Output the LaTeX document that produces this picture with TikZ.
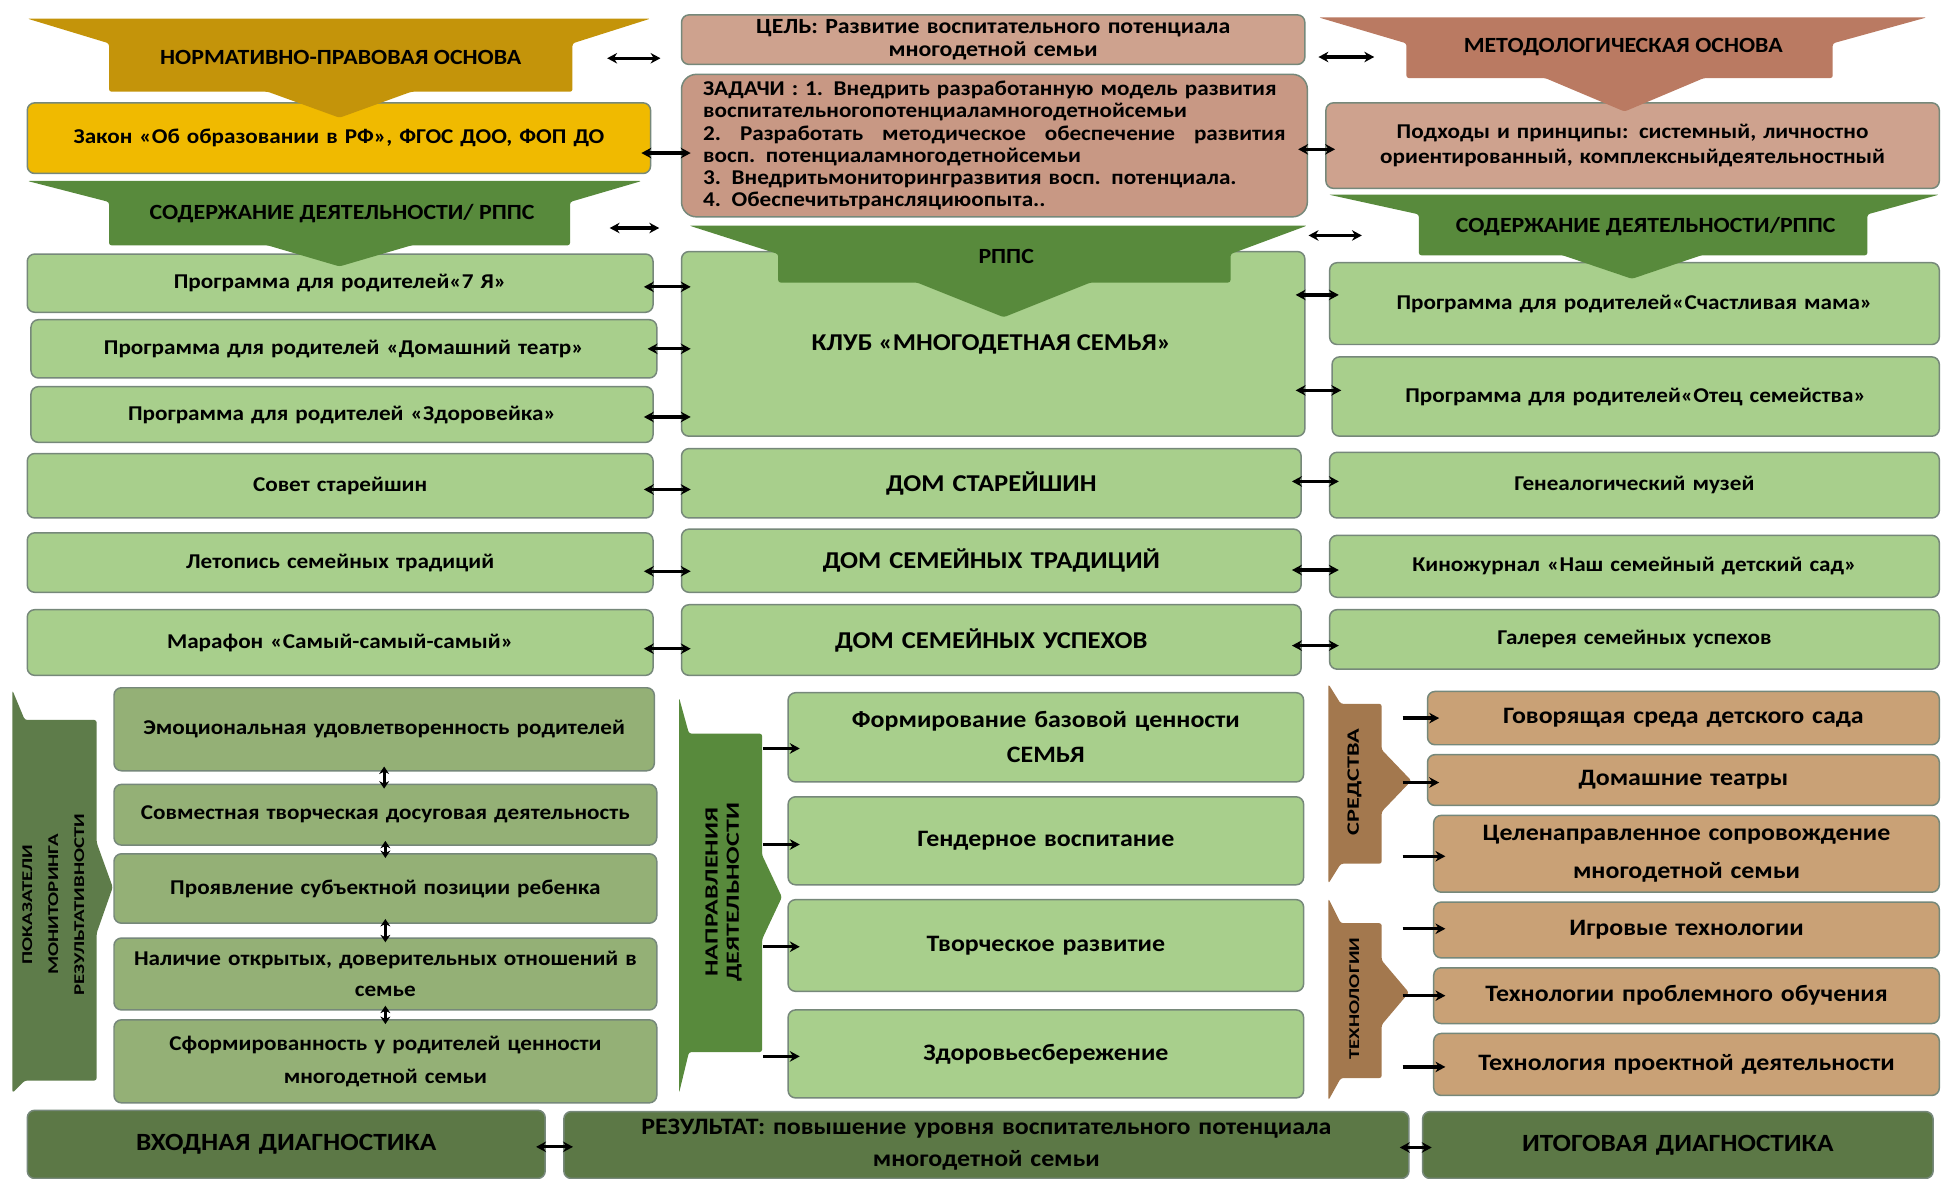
\documentclass[tikz,border=0pt]{standalone}
\usepackage{fontspec}
\setmainfont{Carlito}[FakeStretch=1.1]
\newfontfamily\widefont{Carlito}[FakeStretch=1.4]
\usetikzlibrary{arrows.meta}
\definecolor{goldc}{RGB}{196,148,10}
\definecolor{yelc}{RGB}{240,186,0}
\definecolor{rosec}{RGB}{206,162,142}
\definecolor{rosek}{RGB}{200,152,132}
\definecolor{metc}{RGB}{186,122,98}
\definecolor{chg}{RGB}{88,138,60}
\definecolor{lgc}{RGB}{168,207,140}
\definecolor{sagec}{RGB}{148,176,118}
\definecolor{pokc}{RGB}{94,124,74}
\definecolor{brc}{RGB}{163,120,78}
\definecolor{tanc}{RGB}{201,161,118}
\definecolor{dkg}{RGB}{92,120,70}
\definecolor{bordc}{RGB}{118,136,122}
\newcommand\FtBox{\bfseries\fontsize{17}{20}\selectfont}
\newcommand\FtCap{\bfseries\fontsize{17.5}{20}\selectfont}
\newcommand\FtDom{\bfseries\fontsize{19.5}{23}\selectfont}
\newcommand\FtZad{\bfseries\fontsize{17}{18}\selectfont}
\newcommand\FtBot{\bfseries\fontsize{20}{23}\selectfont}
\newcommand\FtMid{\bfseries\fontsize{19}{28}\selectfont}
\newcommand\mybox[7]{%
 \pgfmathsetmacro\mbW{(#4)-(#3)}\pgfmathsetmacro\mbH{(#6)-(#5)}%
 \pgfmathsetmacro\mbX{((#3)+(#4))/2}\pgfmathsetmacro\mbY{((#5)+(#6))/2}%
 \pgfmathsetmacro\mbT{(#4)-(#3)-4}%
 \node[#1, minimum width=\mbW pt, minimum height=\mbH pt, text width=\mbT pt] (#2) at (\mbX,\mbY) {#7};}
\begin{document}
\begin{tikzpicture}[x=1pt,y=-1pt,
  bx/.style={rounded corners=6pt, draw=bordc, line width=1.2pt, inner sep=0pt, align=center, font=\FtBox},
  lgb/.style={bx, fill=lgc},
  sgb/.style={bx, fill=sagec},
  tnb/.style={bx, fill=tanc, font=\FtMid},
  rsb/.style={bx, fill=rosec},
  dkb/.style={bx, fill=dkg, font=\FtBot},
  domb/.style={lgb, font=\FtDom},
  dirb/.style={lgb, font=\FtMid},
  chtxt/.style={font=\FtCap, inner sep=0pt},
  vtxt/.style={rotate=90, align=center, inner sep=0pt},
  dar/.style={{Stealth[length=8pt,width=8.5pt]}-{Stealth[length=8pt,width=8.5pt]}, line width=2.6pt, shorten <=-8pt, shorten >=-8pt},
  fdar/.style={{Stealth[length=8pt,width=8.5pt]}-{Stealth[length=8pt,width=8.5pt]}, line width=2.6pt},
  sar/.style={-{Stealth[length=8pt,width=8.5pt]}, line width=2.6pt, shorten >=-10pt},
  vdar/.style={{Stealth[length=6pt,width=8pt]}-{Stealth[length=6pt,width=8pt]}, line width=2.4pt, shorten <=-4pt, shorten >=-4pt},
  chev/.style={rounded corners=2pt}
]
\fill[white] (0,0) rectangle (1568,951);
\useasboundingbox (0,0) rectangle (1568,951);

% ---------- top boxes ----------
\mybox{bx, fill=yelc}{zakon}{22}{525}{83}{140}{Закон «Об образовании в РФ», ФГОС ДОО, ФОП ДО}
\mybox{rsb, font=\bfseries\fontsize{17.5}{18}\selectfont}{goal}{550}{1053}{12}{52}{ЦЕЛЬ: Развитие воспитательного потенциала\\многодетной семьи}
\node[bx, fill=rosek, rounded corners=12pt, font=\FtZad, align=left, minimum width=505pt, minimum height=115pt, text width=470pt] (tasks) at (802.5,117.5) {ЗАДАЧИ : 1. Внедрить разработанную модель развития\\воспитательногопотенциаламногодетнойсемьи\\\leavevmode\hbox to \linewidth{2.\hfill Разработать\hfill методическое\hfill обеспечение\hfill развития}\\восп. потенциаламногодетнойсемьи\\3. Внедритьмониторингразвития восп. потенциала.\\4. Обеспечитьтрансляциюопыта..};
\mybox{rsb}{appr}{1070}{1565}{83}{152}{Подходы и принципы: системный, личностно\\ориентированный, комплексныйдеятельностный}

% ---------- middle rows ----------
\mybox{lgb}{p7}{22}{527}{205}{252}{Программа для родителей«7 Я»}
\mybox{lgb}{pdt}{25}{530}{258}{305}{Программа для родителей «Домашний театр»}
\mybox{lgb}{pzd}{25}{527}{312}{357}{Программа для родителей «Здоровейка»}
\mybox{lgb}{sov}{22}{527}{366}{418}{Совет старейшин}
\mybox{lgb}{let}{22}{527}{430}{478}{Летопись семейных традиций}
\mybox{lgb}{mar}{22}{527}{492}{545}{Марафон «Самый-самый-самый»}

\mybox{lgb}{club}{550}{1053}{203}{352}{}
\node[font=\FtDom, inner sep=0pt] (clubt) at (800,278) {КЛУБ «МНОГОДЕТНАЯ СЕМЬЯ»};
\mybox{domb}{dst}{550}{1050}{362}{418}{ДОМ СТАРЕЙШИН}
\mybox{domb}{dtr}{550}{1050}{427}{478}{ДОМ СЕМЕЙНЫХ ТРАДИЦИЙ}
\mybox{domb}{dus}{550}{1050}{488}{545}{ДОМ СЕМЕЙНЫХ УСПЕХОВ}

\mybox{lgb}{mama}{1073}{1565}{212}{278}{Программа для родителей«Счастливая мама»}
\mybox{lgb}{otec}{1075}{1565}{288}{352}{Программа для родителей«Отец семейства»}
\mybox{lgb}{gen}{1073}{1565}{365}{418}{Генеалогический музей}
\mybox{lgb}{kino}{1073}{1565}{432}{482}{Киножурнал «Наш семейный детский сад»}
\mybox{lgb}{gal}{1073}{1565}{492}{540}{Галерея семейных успехов}

% ---------- bottom left ----------
\mybox{sgb}{m1}{92}{528}{555}{622}{Эмоциональная удовлетворенность родителей}
\mybox{sgb}{m2}{92}{530}{633}{682}{Совместная творческая досуговая деятельность}
\mybox{sgb}{m3}{92}{530}{689}{745}{Проявление субъектной позиции ребенка}
\mybox{sgb, font=\bfseries\fontsize{17}{25}\selectfont}{m4}{92}{530}{757}{815}{Наличие открытых, доверительных отношений в\\семье}
\mybox{sgb, font=\bfseries\fontsize{17}{27}\selectfont}{m5}{92}{530}{823}{890}{Сформированность у родителей ценности\\многодетной семьи}

% ---------- bottom centre ----------
\mybox{dirb}{n1}{636}{1052}{559}{631}{Формирование базовой ценности\\СЕМЬЯ}
\mybox{dirb}{n2}{636}{1052}{643}{714}{Гендерное воспитание}
\mybox{dirb}{n3}{636}{1052}{726}{800}{Творческое развитие}
\mybox{dirb}{n4}{636}{1052}{815}{886}{Здоровьесбережение}

% ---------- bottom right ----------
\mybox{tnb}{s1}{1152}{1565}{558}{601}{Говорящая среда детского сада}
\mybox{tnb}{s2}{1152}{1565}{609}{650}{Домашние театры}
\mybox{tnb, font=\bfseries\fontsize{19}{30}\selectfont}{s3}{1157}{1565}{658}{720}{Целенаправленное сопровождение\\многодетной семьи}
\mybox{tnb}{t1}{1157}{1565}{728}{773}{Игровые технологии}
\mybox{tnb}{t2}{1157}{1565}{781}{826}{Технологии проблемного обучения}
\mybox{tnb}{t3}{1157}{1565}{834}{884}{Технология проектной деятельности}

% ---------- bottom row ----------
\mybox{dkb}{vhod}{22}{440}{896}{951}{ВХОДНАЯ ДИАГНОСТИКА}
\mybox{dkb, font=\bfseries\fontsize{19}{26}\selectfont}{res}{455}{1137}{897}{951}{РЕЗУЛЬТАТ: повышение уровня воспитательного потенциала\\многодетной семьи}
\mybox{dkb}{itog}{1148}{1560}{897}{951}{ИТОГОВАЯ ДИАГНОСТИКА}

% ---------- chevrons ----------
\fill[goldc, chev] (22,15) -- (525,15) -- (462,35) -- (462,74) -- (332,74) -- (274,95) -- (216,74) -- (88,74) -- (88,35) -- cycle;
\node[chtxt] (npo) at (275,46) {НОРМАТИВНО-ПРАВОВАЯ ОСНОВА};
\fill[chg, chev] (22,146) -- (518,146) -- (460,163) -- (460,198) -- (332,198) -- (274,215) -- (216,198) -- (88,198) -- (88,163) -- cycle;
\node[chtxt] (sodl) at (276,172) {СОДЕРЖАНИЕ ДЕЯТЕЛЬНОСТИ/ РППС};
\fill[chg, chev] (556,182) -- (1055,182) -- (993,205) -- (993,228) -- (880,228) -- (810,256) -- (740,228) -- (628,228) -- (628,205) -- cycle;
\node[chtxt] (rpps) at (812,207) {РППС};
\fill[metc, chev] (1064,14) -- (1555,14) -- (1479,35) -- (1479,63) -- (1375,63) -- (1311,90) -- (1247,63) -- (1135,63) -- (1135,35) -- cycle;
\node[chtxt] (met) at (1310,38) {МЕТОДОЛОГИЧЕСКАЯ ОСНОВА};
\fill[chg, chev] (1072,157) -- (1565,157) -- (1507,173) -- (1507,206) -- (1373,206) -- (1317,225) -- (1261,206) -- (1145,206) -- (1145,173) -- cycle;
\node[chtxt] (sodr) at (1328,183) {СОДЕРЖАНИЕ ДЕЯТЕЛЬНОСТИ/РППС};

\fill[pokc, chev] (10,557) -- (20,581) -- (78,581) -- (78,680) -- (91,716) -- (78,753) -- (78,872) -- (20,872) -- (10,882) -- cycle;
\node[vtxt, font=\widefont\bfseries\fontsize{12}{21}\selectfont] (pok) at (43,730) {ПОКАЗАТЕЛИ\\МОНИТОРИНГА\\РЕЗУЛЬТАТИВНОСТИ};
\fill[chg, chev] (548,563) -- (556,592) -- (615,592) -- (615,690) -- (631,724) -- (615,758) -- (615,849) -- (556,849) -- (548,882) -- cycle;
\node[vtxt, font=\widefont\bfseries\fontsize{15}{17}\selectfont] (napr) at (584,720) {НАПРАВЛЕНИЯ\\ДЕЯТЕЛЬНОСТИ};
\fill[brc, chev] (1072,552) -- (1082,568) -- (1115,568) -- (1115,605) -- (1139,630) -- (1115,655) -- (1115,697) -- (1082,697) -- (1072,713) -- cycle;
\node[vtxt, font=\widefont\bfseries\fontsize{14}{16}\selectfont] (sred) at (1093,631) {СРЕДСТВА};
\fill[brc, chev] (1072,725) -- (1082,745) -- (1115,745) -- (1115,775) -- (1137,801) -- (1115,827) -- (1115,870) -- (1082,870) -- (1072,888) -- cycle;
\node[vtxt, font=\widefont\bfseries\fontsize{12}{14}\selectfont] (tehn) at (1093,806) {ТЕХНОЛОГИИ};

% ---------- free arrows ----------
\coordinate (f1a) at (490,47); \coordinate (f1b) at (533,47);
\coordinate (f2a) at (1064,46); \coordinate (f2b) at (1109,46);
\coordinate (f3a) at (492,184); \coordinate (f3b) at (532,184);
\coordinate (f4a) at (1056,190); \coordinate (f4b) at (1099,190);
\draw[fdar] (f1a) -- (f1b);
\draw[fdar] (f2a) -- (f2b);
\draw[fdar] (f3a) -- (f3b);
\draw[fdar] (f4a) -- (f4b);

\draw[dar] ([yshift=-12pt]zakon.east) -- ([yshift=-12pt]zakon.east -| tasks.west);
\draw[dar] ([yshift=-3pt]tasks.east) -- ([yshift=-3pt]tasks.east -| appr.west);

\draw[dar] ([yshift=-3pt]p7.east) -- ([yshift=-3pt]p7.east -| club.west);
\draw[dar] (pdt.east) -- (pdt.east -| club.west);
\draw[dar] ([yshift=-2pt]pzd.east) -- ([yshift=-2pt]pzd.east -| club.west);
\draw[dar] ([yshift=-3pt]sov.east) -- ([yshift=-3pt]sov.west -| dst.west);
\draw[dar] ([yshift=-7pt]let.east) -- ([yshift=-7pt]let.east -| dtr.west);
\draw[dar] ([yshift=-5pt]mar.east) -- ([yshift=-5pt]mar.east -| dus.west);

\draw[dar] ([yshift=7pt]mama.west -| club.east) -- ([yshift=7pt]mama.west);
\draw[dar] ([yshift=5pt]otec.west -| club.east) -- ([yshift=5pt]otec.west);
\draw[dar] ([yshift=3pt]gen.west -| dst.east) -- ([yshift=3pt]gen.west);
\draw[dar] ([yshift=-3pt]kino.west -| dtr.east) -- ([yshift=-3pt]kino.west);
\draw[dar] ([yshift=-5pt]gal.west -| dus.east) -- ([yshift=-5pt]gal.west);

\draw[vdar] (m1.south) -- (m1.south |- m2.north);
\draw[vdar] (m2.south) -- (m2.south |- m3.north);
\draw[vdar] (m3.south) -- (m3.south |- m4.north);
\draw[vdar] (m4.south) -- (m4.south |- m5.north);

\coordinate (nb) at (616,0);
\draw[sar] ([yshift=-9pt]n1.west -| nb) -- ([yshift=-9pt]n1.west);
\draw[sar] ([yshift=-3pt]n2.west -| nb) -- ([yshift=-3pt]n2.west);
\draw[sar] ([yshift=-1pt]n3.west -| nb) -- ([yshift=-1pt]n3.west);
\draw[sar] ([yshift=-2pt]n4.west -| nb) -- ([yshift=-2pt]n4.west);

\coordinate (sb) at (1132,0);
\draw[sar] (s1.west -| sb) -- (s1.west);
\draw[sar] ([yshift=-2pt]s2.west -| sb) -- ([yshift=-2pt]s2.west);
\draw[sar] ([yshift=-2pt]s3.west -| sb) -- ([yshift=-2pt]s3.west);
\draw[sar] ([yshift=1pt]t1.west -| sb) -- ([yshift=1pt]t1.west);
\draw[sar] (t2.west -| sb) -- (t2.west);
\draw[sar] ([yshift=-2pt]t3.west -| sb) -- ([yshift=-2pt]t3.west);

\draw[dar] ([yshift=-2pt]vhod.east) -- ([yshift=-2pt]vhod.east -| res.west);
\draw[dar] ([yshift=-2pt]res.east) -- ([yshift=-2pt]res.east -| itog.west);
\end{tikzpicture}
\end{document}
